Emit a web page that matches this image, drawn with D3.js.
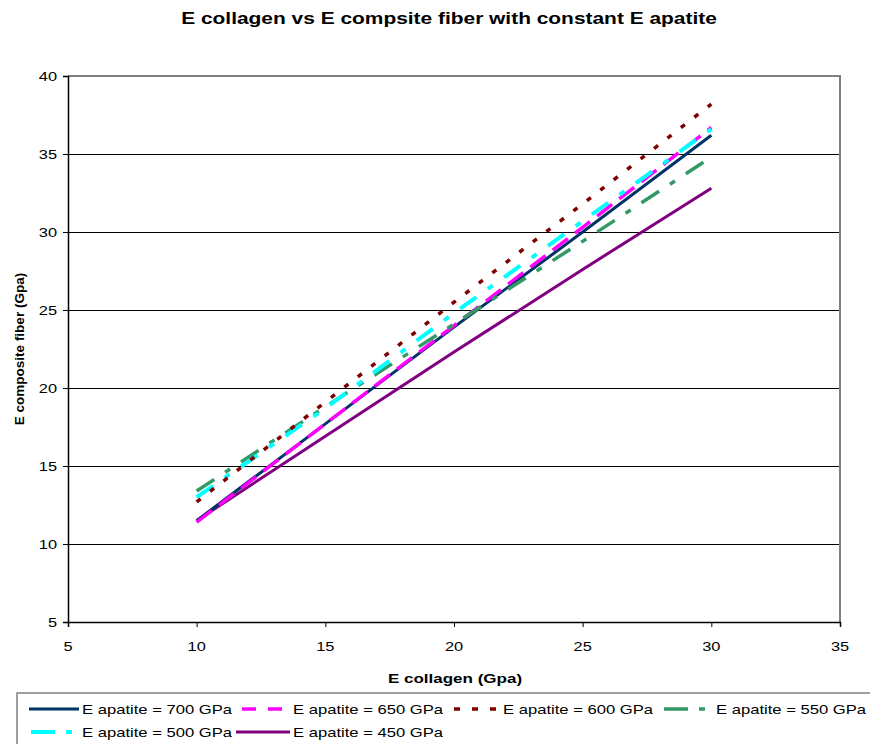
<!DOCTYPE html>
<html>
<head>
<meta charset="utf-8">
<script src="https://cdn.jsdelivr.net/npm/d3@7"></script>
<style>
  html, body { margin: 0; padding: 0; background: #fff; }
  svg { display: block; font-family: "Liberation Sans", Arial, sans-serif; }
</style>
</head>
<body>
<svg id="chart" width="870" height="744"></svg>
<script>
// E collagen values (GPa)
const collagen = [10, 15, 20, 25, 30];

// Composite fiber modulus for each apatite modulus
const apatite700 = [11.5, 17.7, 23.9, 30.0, 36.2];
const apatite650 = [11.4, 17.7, 24.0, 30.3, 36.7];
const apatite600 = [12.7, 19.1, 25.5, 31.8, 38.2];
const apatite550 = [13.4, 18.8, 24.1, 29.4, 34.8];
const apatite500 = [13.0, 18.7, 24.8, 30.7, 36.6];
const apatite450 = [11.5, 16.9, 22.3, 27.6, 32.8];

const seriesNames = [
  "E apatite = 700 GPa", "E apatite = 650 GPa", "E apatite = 600 GPa",
  "E apatite = 550 GPa", "E apatite = 500 GPa", "E apatite = 450 GPa"
];
const seriesValues = [apatite700, apatite650, apatite600, apatite550, apatite500, apatite450];

const xTicks = [5, 10, 15, 20, 25, 30, 35];
const yTicks = [5, 10, 15, 20, 25, 30, 35, 40];

// Line styles per series
const styles = [
  { color: "#003366", width: 3, dash: null },
  { color: "#FF00FF", width: 3.5, dash: "19,9" },
  { color: "#800000", width: 3.5, dash: "5,12" },
  { color: "#339966", width: 3.5, dash: "21,13,6,13" },
  { color: "#00FFFF", width: 4, dash: "20,14,6,14" },
  { color: "#800080", width: 3, dash: null }
];

// Horizontal text is drawn wide (horizontal stretch factor)
const SX = 1.26;

const svg = d3.select("#chart");
const plotL = 68, plotR = 840, plotT = 76, plotB = 622;

const x = d3.scaleLinear().domain([5, 35]).range([plotL, plotR]);
const y = d3.scaleLinear().domain([5, 40]).range([plotB, plotT]);

function wideText(parent, px, py, str, size, weight, anchor) {
  return parent.append("text")
    .attr("transform", `translate(${px},${py}) scale(${SX},1)`)
    .attr("text-anchor", anchor || "start")
    .attr("font-size", size)
    .attr("font-weight", weight || "normal")
    .attr("fill", "#000")
    .text(str);
}

// Title
wideText(svg, 449, 24, "E collagen vs E compsite fiber with constant E apatite", 16.6, "bold", "middle");

// Horizontal gridlines
svg.append("g")
  .attr("shape-rendering", "crispEdges")
  .selectAll("line")
  .data(yTicks.filter(d => d > 5 && d < 40))
  .join("line")
  .attr("x1", plotL).attr("x2", plotR)
  .attr("y1", d => y(d)).attr("y2", d => y(d))
  .attr("stroke", "#000").attr("stroke-width", 1);

// Plot area border (top and right)
svg.append("path")
  .attr("d", `M${plotL},${plotT}H${plotR}V${plotB}`)
  .attr("fill", "none").attr("stroke", "#808080").attr("stroke-width", 2);

// Axes
const xAxis = svg.append("g")
  .attr("transform", `translate(0,${plotB})`)
  .call(d3.axisBottom(x).tickValues(xTicks).tickSize(5).tickFormat(""));
const yAxis = svg.append("g")
  .attr("transform", `translate(${plotL},0)`)
  .call(d3.axisLeft(y).tickValues(yTicks).tickSize(5).tickFormat(""));

[xAxis, yAxis].forEach(g => {
  g.select(".domain").attr("stroke", "#000").attr("stroke-width", 1.5);
  g.selectAll(".tick line").attr("stroke", "#000").attr("stroke-width", 1);
});

// Tick labels
xTicks.forEach(v => wideText(svg, x(v), plotB + 29, String(v), 13, "normal", "middle"));
yTicks.forEach(v => wideText(svg, plotL - 11, y(v) + 5, String(v), 13, "normal", "end"));

// Axis titles
wideText(svg, 455, 683, "E collagen (Gpa)", 13.5, "bold", "middle");
svg.append("text")
  .attr("transform", `translate(24,${(plotT + plotB) / 2}) rotate(-90)`)
  .attr("text-anchor", "middle")
  .attr("font-size", 13.5).attr("font-weight", "bold")
  .text("E composite fiber (Gpa)");

// Series lines
const line = d3.line()
  .x((d, i) => x(collagen[i]))
  .y(d => y(d));

const plotOrder = [5, 0, 1, 3, 4, 2];
plotOrder.forEach(k => {
  const s = styles[k];
  svg.append("path")
    .datum(seriesValues[k])
    .attr("d", line)
    .attr("fill", "none")
    .attr("stroke", s.color)
    .attr("stroke-width", s.width)
    .attr("stroke-dasharray", s.dash)
    .attr("stroke-linecap", "butt");
});

// Legend
const legend = svg.append("g");
legend.append("rect")
  .attr("x", 17).attr("y", 693)
  .attr("width", 860).attr("height", 60)
  .attr("fill", "#fff").attr("stroke", "#808080").attr("stroke-width", 1.5);

const legendPos = [
  { lx: 29, tx: 82, ly: 709 },
  { lx: 242, tx: 293, ly: 709 },
  { lx: 454, tx: 503, ly: 709 },
  { lx: 664, tx: 716, ly: 709 },
  { lx: 31, tx: 82, ly: 732 },
  { lx: 236, tx: 293, ly: 732 }
];
const legendDash = [null, "14,12", "6,12", "24,11,6,11", "24,11,6,11", null];

seriesNames.forEach((name, k) => {
  const p = legendPos[k];
  legend.append("line")
    .attr("x1", p.lx).attr("x2", p.tx - 3)
    .attr("y1", p.ly).attr("y2", p.ly)
    .attr("stroke", styles[k].color)
    .attr("stroke-width", styles[k].width)
    .attr("stroke-dasharray", legendDash[k]);
  wideText(legend, p.tx, p.ly + 5, name, 13.2, "normal", "start");
});
</script>
</body>
</html>
